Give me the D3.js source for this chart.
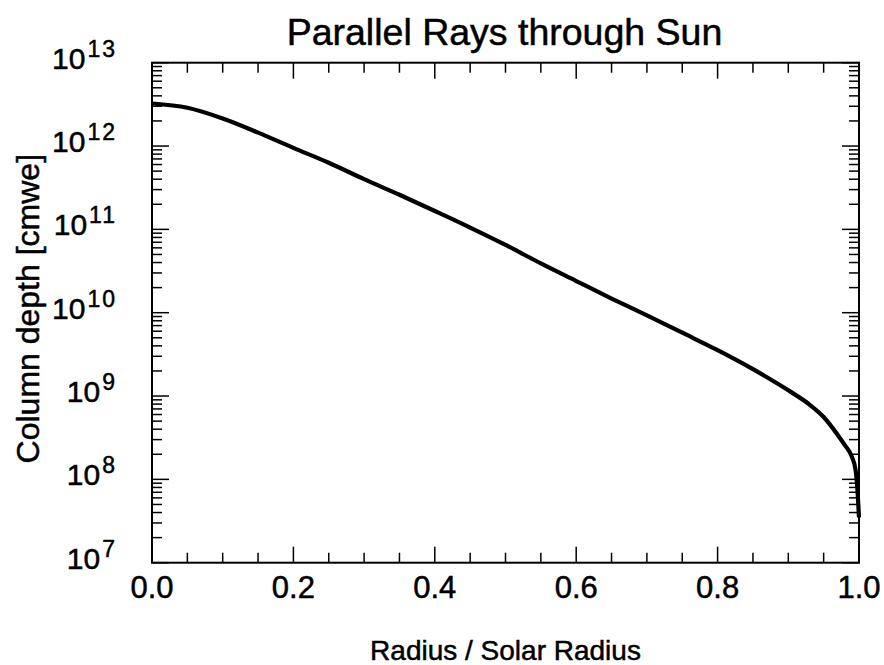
<!DOCTYPE html>
<html><head><meta charset="utf-8">
<script src="https://cdn.jsdelivr.net/npm/d3@7"></script>
<style>
html,body{margin:0;padding:0;background:#fff;}
svg text{font-family:"Liberation Sans",Arial,Helvetica,sans-serif;fill:#000;stroke:#000;stroke-width:0.5px;}
</style></head>
<body>
<svg id="chart" width="884" height="665"></svg>
<script>
// Data (column depth vs radius / solar radius)
const radius = [0, 0.05, 0.1, 0.15, 0.2, 0.25, 0.3, 0.35, 0.4, 0.45, 0.5, 0.55, 0.6, 0.65, 0.7, 0.75, 0.8, 0.85, 0.9, 0.93, 0.95, 0.97, 0.98, 0.99, 0.995, 0.998, 1.0];
const depth = [3.24e12, 2.88e12, 2.14e12, 1.45e12, 9.5e11, 6.3e11, 4.0e11, 2.6e11, 1.66e11, 1.05e11, 6.5e10, 3.9e10, 2.4e10, 1.48e10, 9.3e9, 5.75e9, 3.55e9, 2.1e9, 1.17e9, 7.9e8, 5.6e8, 3.4e8, 2.57e8, 1.86e8, 1.32e8, 7.1e7, 3.5e7];
const xTickLabels = ["0.0", "0.2", "0.4", "0.6", "0.8", "1.0"];
const xTickValues = [0, 0.2, 0.4, 0.6, 0.8, 1.0];
const yExponents = [7, 8, 9, 10, 11, 12, 13];
const titleText = "Parallel Rays through Sun";
const xTitle = "Radius / Solar Radius";
const yTitle = "Column depth [cmwe]";

const svg = d3.select("#chart");
const L = 152, R = 859, T = 62.7, B = 562.7;
const x = d3.scaleLinear().domain([0, 1]).range([L, R]);
const y = d3.scaleLog().domain([1e7, 1e13]).range([B, T]);

const g = svg.append("g");

// minor/major tick positions
const xMinor = d3.range(0, 1.0001, 0.05).map(v => +v.toFixed(2));
const isMajorX = v => Math.abs(v * 5 - Math.round(v * 5)) < 1e-6;
const yMinor = [];
for (let e = 7; e < 13; e++) for (let k = 2; k <= 9; k++) yMinor.push(k * Math.pow(10, e));
const yMajor = yExponents.map(e => Math.pow(10, e));

const tickStyle = sel => sel.attr("stroke", "#000").attr("stroke-width", 1.5);

// bottom & top ticks (inward)
xMinor.forEach(v => {
  const len = isMajorX(v) ? 16 : 10;
  tickStyle(g.append("line").attr("x1", x(v)).attr("x2", x(v)).attr("y1", B).attr("y2", B - len));
  tickStyle(g.append("line").attr("x1", x(v)).attr("x2", x(v)).attr("y1", T).attr("y2", T + len));
});
// left & right ticks (inward)
yMajor.concat(yMinor).forEach(v => {
  const len = yMajor.includes(v) ? 17 : 10;
  tickStyle(g.append("line").attr("x1", L).attr("x2", L + len).attr("y1", y(v)).attr("y2", y(v)));
  tickStyle(g.append("line").attr("x1", R).attr("x2", R - len).attr("y1", y(v)).attr("y2", y(v)));
});

// frame
g.append("rect").attr("x", L).attr("y", T).attr("width", R - L).attr("height", B - T)
  .attr("fill", "none").attr("stroke", "#000").attr("stroke-width", 2);

// x tick labels
g.selectAll(".xl").data(xTickValues).enter().append("text")
  .attr("x", d => x(d)).attr("y", 598)
  .attr("text-anchor", "middle").attr("font-size", 31)
  .text((d, i) => xTickLabels[i]);

// y tick labels 10^n
yExponents.forEach(e => {
  const t = g.append("text").attr("x", 117).attr("y", y(Math.pow(10, e)) + 6)
    .attr("text-anchor", "end").attr("font-size", 30);
  t.append("tspan").text("10");
  t.append("tspan").attr("font-size", 23).attr("dx", 2).attr("dy", -12)
    .attr("letter-spacing", 2).text(String(e));
});

// curve
const pts = radius.map((r, i) => [r, depth[i]]);
const line = d3.line().x(d => x(d[0])).y(d => y(d[1])).curve(d3.curveMonotoneX);
g.append("path").datum(pts).attr("d", line)
  .attr("fill", "none").attr("stroke", "#000").attr("stroke-width", 4.2)
  .attr("stroke-linejoin", "round");

// titles
svg.append("text").attr("x", (L + R) / 2 - 1).attr("y", 45).attr("text-anchor", "middle")
  .attr("font-size", 37.5).text(titleText);
svg.append("text").attr("x", (L + R) / 2).attr("y", 660).attr("text-anchor", "middle")
  .attr("font-size", 28).text(xTitle);
svg.append("text").attr("transform", `translate(39,${(T + B) / 2 - 4}) rotate(-90)`)
  .attr("text-anchor", "middle").attr("font-size", 32).text(yTitle);
</script>
</body></html>
